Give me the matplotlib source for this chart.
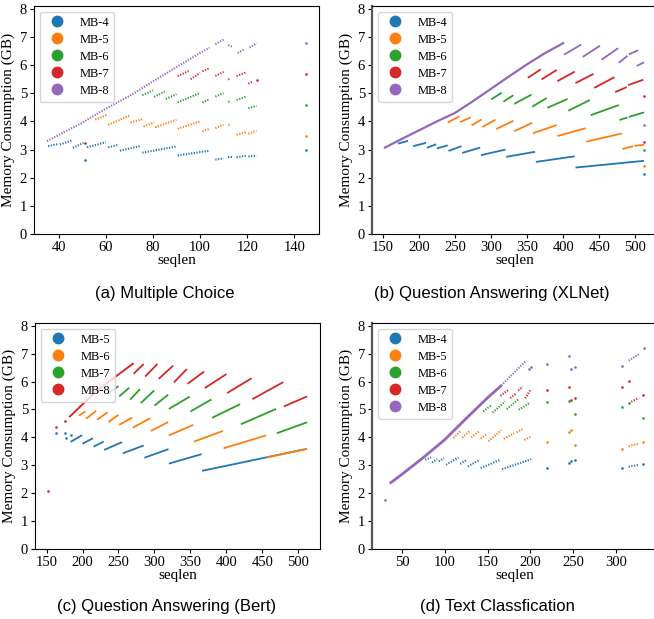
import matplotlib
matplotlib.use("Agg")
import matplotlib.pyplot as plt
from matplotlib.lines import Line2D

plt.rcParams['font.family'] = ['Liberation Serif', 'DejaVu Serif']

COLORS = ['#1f77b4', '#ff7f0e', '#2ca02c', '#d62728', '#9467bd']

# segments are (x_start, x_end, y_start, y_end); x_start == x_end is a single point

# ---- (a) Multiple Choice ----
a_labels = ["MB-4", "MB-5", "MB-6", "MB-7", "MB-8"]
a_curve_x = [35, 40, 45, 50, 52, 60, 70, 80, 90, 100, 104]
a_curve_y = [3.30, 3.52, 3.74, 3.95, 4.06, 4.45, 4.90, 5.42, 5.93, 6.43, 6.62]
a_mb4 = [(35.5, 40, 3.12, 3.20), (40.5, 45.5, 3.18, 3.32), (46, 50.5, 3.06, 3.24),
         (51, 51, 2.62, 2.62), (52, 60, 3.08, 3.26), (61, 65, 3.08, 3.16),
         (66, 75, 2.96, 3.13), (75.5, 90, 2.89, 3.11), (90.5, 104, 2.79, 2.96),
         (106.5, 110, 2.64, 2.69), (112, 113.5, 2.72, 2.72), (115.5, 119.5, 2.73, 2.78),
         (120.5, 124, 2.75, 2.78), (145, 145, 2.98, 2.98)]
a_mb5 = [(55.5, 60.5, 4.06, 4.24), (61, 70, 3.88, 4.20), (70.5, 75.5, 3.96, 4.08),
         (76, 80.5, 3.82, 3.96), (81, 90, 3.79, 4.06), (90.5, 100, 3.74, 4.00),
         (101, 104, 3.65, 3.73), (106.5, 110, 3.76, 3.88), (112, 113, 3.88, 3.86),
         (115.5, 119.5, 3.53, 3.61), (120.5, 124, 3.56, 3.67), (145, 145, 3.49, 3.49)]
a_mb6 = [(75.5, 80, 4.93, 5.10), (80.5, 85, 4.87, 5.06), (85.5, 90, 4.80, 4.97),
         (90.5, 100, 4.68, 5.01), (101, 104, 4.67, 4.79), (106.5, 110, 4.88, 5.00),
         (112, 113, 4.71, 4.67), (115.5, 119.5, 4.76, 4.88), (120.5, 124, 4.47, 4.55),
         (145, 145, 4.58, 4.58)]
a_mb7 = [(51, 51, 3.24, 3.24), (90.5, 95.5, 5.61, 5.80), (96, 100, 5.50, 5.72),
         (101, 104, 5.78, 5.89), (106.5, 110, 5.62, 5.76), (112, 113, 5.51, 5.46),
         (115.5, 119.5, 5.61, 5.74), (120.5, 122, 5.34, 5.40), (124, 124, 5.46, 5.46),
         (145, 145, 5.68, 5.68)]
a_mb8 = [(106.5, 110, 6.74, 6.91), (112, 113.5, 6.71, 6.66), (116, 119, 6.43, 6.57),
         (121, 124, 6.62, 6.78), (145, 145, 6.78, 6.78)]

# ---- (b) Question Answering (XLNet) ----
b_labels = ["MB-4", "MB-5", "MB-6", "MB-7", "MB-8"]
b_curve_x = [153, 175, 200, 225, 250, 275, 300, 325, 350, 375, 400]
b_curve_y = [3.07, 3.36, 3.68, 4.00, 4.30, 4.72, 5.16, 5.60, 6.03, 6.43, 6.78]
b_mb4 = [(171, 185, 3.21, 3.31), (192, 210, 3.12, 3.24), (211, 224, 3.06, 3.19),
         (225, 240, 3.04, 3.15), (241, 259, 2.95, 3.12), (260, 285, 2.88, 3.07),
         (286, 320, 2.80, 3.00), (321, 361, 2.74, 2.92), (362, 416, 2.56, 2.76),
         (417, 512, 2.36, 2.60), (512, 512, 2.12, 2.12)]
b_mb5 = [(240, 256, 3.96, 4.18), (257, 272, 3.98, 4.14), (273, 287, 3.86, 4.07),
         (288, 306, 3.80, 4.06), (307, 331, 3.73, 4.02), (332, 357, 3.65, 3.95),
         (358, 391, 3.58, 3.87), (392, 431, 3.48, 3.76), (432, 481, 3.28, 3.57),
         (482, 497, 3.02, 3.12), (499, 512, 3.13, 3.17), (512, 512, 2.40, 2.40)]
b_mb6 = [(300, 315, 4.78, 5.02), (317, 331, 4.70, 4.93), (332, 356, 4.62, 4.95),
         (357, 377, 4.52, 4.83), (378, 406, 4.48, 4.80), (407, 437, 4.38, 4.76),
         (438, 477, 4.22, 4.58), (478, 489, 4.05, 4.14), (491, 512, 4.16, 4.32),
         (512, 512, 3.00, 3.00)]
b_mb7 = [(351, 369, 5.55, 5.85), (370, 391, 5.49, 5.83), (392, 416, 5.43, 5.77),
         (417, 442, 5.36, 5.69), (443, 471, 5.19, 5.57), (472, 488, 5.04, 5.22),
         (490, 511, 5.29, 5.48), (512, 512, 4.90, 4.90), (512, 512, 3.27, 3.27)]
b_mb8 = [(401, 425, 6.37, 6.73), (427, 451, 6.29, 6.69), (453, 476, 6.19, 6.60),
         (477, 489, 6.08, 6.33), (491, 504, 6.38, 6.53), (502, 512, 5.97, 6.10),
         (512, 512, 3.88, 3.88)]

# ---- (c) Question Answering (Bert) ----
c_labels = ["MB-5", "MB-6", "MB-7", "MB-8"]
c_curve_x = [182.5, 220, 270]
c_curve_y = [4.75, 5.68, 6.64]
c_mb5 = [(163, 163, 4.17, 4.17), (175, 175, 4.14, 4.14), (176.5, 176.5, 3.97, 3.97),
         (184.5, 184.5, 4.07, 4.07), (183.5, 199.5, 3.84, 4.08), (200, 214.5, 3.77, 3.97),
         (215.5, 229.5, 3.67, 3.85), (230, 255, 3.55, 3.83), (256, 285, 3.43, 3.71),
         (286, 319.5, 3.27, 3.58), (320, 365.5, 3.06, 3.40), (366, 512, 2.80, 3.59)]
c_mb6 = [(195, 204, 4.78, 4.93), (205, 219, 4.67, 4.95), (220, 235, 4.63, 4.90),
         (236, 250, 4.55, 4.81), (251, 269, 4.45, 4.71), (270, 294, 4.35, 4.69),
         (295, 319, 4.23, 4.55), (320, 354, 4.07, 4.45), (355, 395, 3.85, 4.23),
         (396, 455, 3.61, 4.07), (456, 512, 3.28, 3.59)]
c_mb7 = [(235, 250, 5.56, 5.84), (251, 265, 5.47, 5.78), (266, 280, 5.35, 5.73),
         (281, 299.5, 5.23, 5.68), (300, 319, 5.14, 5.53), (320, 349, 5.02, 5.46),
         (350, 379, 4.93, 5.36), (380, 419, 4.70, 5.19), (420, 469, 4.47, 5.02),
         (470, 512, 4.15, 4.54)]
c_mb8 = [(152, 152, 2.09, 2.09), (163.5, 163.5, 4.38, 4.38), (175.5, 175.5, 4.59, 4.59),
         (271, 285, 6.28, 6.63), (287, 304, 6.18, 6.63), (306, 326, 6.10, 6.57),
         (327, 345, 5.97, 6.45), (346, 369, 5.92, 6.36), (370, 400, 5.77, 6.27),
         (401, 435, 5.59, 6.12), (436, 479, 5.37, 5.98), (480, 512, 5.11, 5.47)]

# ---- (d) Text Classfication ----
d_labels = ["MB-4", "MB-5", "MB-6", "MB-7", "MB-8"]
d_curve_x = [37, 50, 75, 100, 125, 150, 165]
d_curve_y = [2.38, 2.68, 3.28, 3.92, 4.68, 5.42, 5.83]
d_mb4 = [(77, 84, 3.20, 3.28), (85, 91, 3.10, 3.22), (93, 99, 3.14, 3.26),
         (101.5, 116, 3.02, 3.28), (118, 126, 3.05, 3.20), (127, 141, 2.96, 3.20),
         (142, 165, 2.90, 3.20), (167, 201, 2.86, 3.22), (219, 219, 2.92, 2.92),
         (245, 245, 3.10, 3.10), (248, 248, 3.15, 3.15), (252, 252, 3.20, 3.20),
         (307, 307, 2.90, 2.90), (315, 326, 2.95, 3.01), (332, 332, 3.05, 3.05)]
d_mb5 = [(110, 118.5, 3.98, 4.23), (120.5, 129, 3.99, 4.23), (131, 141, 4.00, 4.24),
         (142, 149, 3.96, 4.12), (151, 166, 3.86, 4.26), (169, 181, 3.95, 4.15),
         (184, 191, 4.18, 4.30), (193, 201, 3.91, 4.03), (219, 219, 3.85, 3.85),
         (245, 245, 4.20, 4.20), (248, 248, 4.28, 4.28), (252, 252, 3.73, 3.73),
         (307, 307, 3.60, 3.60), (315, 326, 3.69, 3.77), (332, 332, 3.84, 3.84)]
d_mb6 = [(145, 155, 4.93, 5.17), (156, 170.5, 4.89, 5.29), (172.5, 186, 5.01, 5.37),
         (186.5, 200, 4.99, 5.25), (219, 219, 5.26, 5.26), (245, 245, 5.29, 5.29),
         (252, 252, 4.85, 4.85), (307, 307, 5.08, 5.08), (315, 315, 5.23, 5.23),
         (332, 332, 4.68, 4.68)]
d_mb7 = [(165, 174.5, 5.49, 5.70), (176.5, 183.5, 5.41, 5.58), (186, 191, 5.68, 5.82),
         (194, 200, 5.40, 5.70), (219, 219, 5.71, 5.71), (245, 245, 5.82, 5.82),
         (248, 248, 5.35, 5.35), (252, 252, 5.42, 5.42), (307, 307, 5.81, 5.81),
         (315, 315, 6.02, 6.02), (318, 326, 5.28, 5.40), (332, 332, 5.52, 5.52)]
d_mb8 = [(30, 30, 1.74, 1.74), (166, 194, 5.86, 6.72), (199, 199, 6.44, 6.44),
         (201, 201, 6.52, 6.52), (219, 219, 6.64, 6.64), (245, 245, 6.92, 6.92),
         (248, 248, 6.44, 6.44), (252, 252, 6.54, 6.54), (307, 307, 6.57, 6.57),
         (315, 327, 6.75, 6.98), (333, 333, 7.21, 7.21)]

DOTTED = (0, (0.6, 0.7))


def draw_panel(ax, labels, series, curve_x, curve_y, dotted, xticks, curve_lw):
    seg_ls = DOTTED if dotted else '-'
    seg_lw = 1.5 if dotted else 1.3
    for i, segs in enumerate(series):
        c = COLORS[i]
        for x0, x1, y0, y1 in segs:
            if x0 == x1:
                ax.plot([x0], [y0], 'o', ms=1.9, mew=0, color=c)
            else:
                ax.plot([x0, x1], [y0, y1], color=c, lw=seg_lw, ls=seg_ls,
                        solid_capstyle='butt')
        if i == len(series) - 1:
            ax.plot(curve_x, curve_y, color=c, lw=curve_lw,
                    ls=DOTTED if dotted and curve_lw < 2 else '-')
    ax.set_ylim(0, 8.1)
    ax.set_yticks(range(0, 9))
    ax.set_xticks(xticks)
    ax.tick_params(labelsize=10.5, length=3, width=0.8, pad=2)
    ax.set_xlabel("seqlen", fontsize=11, labelpad=0)
    ax.set_ylabel("Memory Consumption (GB)", fontsize=11, labelpad=3.5)
    handles = [Line2D([], [], marker='o', ls='', ms=7.5, color=COLORS[i])
               for i in range(len(labels))]
    ax.legend(handles, labels, loc='upper left', fontsize=9,
              labelspacing=0.4, borderaxespad=0.45)


fig = plt.figure(figsize=(6.54, 6.19), dpi=100)
W, H = 654.0, 619.0
ax_a = fig.add_axes([34 / W, (H - 234) / H, 285 / W, 228 / H])
ax_b = fig.add_axes([372 / W, (H - 234) / H, 285 / W, 228 / H])
ax_c = fig.add_axes([35 / W, (H - 549) / H, 285 / W, 226 / H])
ax_d = fig.add_axes([372 / W, (H - 549) / H, 285 / W, 226 / H])

draw_panel(ax_a, a_labels, [a_mb4, a_mb5, a_mb6, a_mb7, a_mb8],
           a_curve_x, a_curve_y, True, range(40, 141, 20), 1.5)
draw_panel(ax_b, b_labels, [b_mb4, b_mb5, b_mb6, b_mb7, b_mb8],
           b_curve_x, b_curve_y, False, range(150, 501, 50), 1.6)
draw_panel(ax_c, c_labels, [c_mb5, c_mb6, c_mb7, c_mb8],
           c_curve_x, c_curve_y, False, range(150, 501, 50), 1.4)
draw_panel(ax_d, d_labels, [d_mb4, d_mb5, d_mb6, d_mb7, d_mb8],
           d_curve_x, d_curve_y, True, range(50, 301, 50), 2.0)

# the right-hand panels have a heavier grey left spine in the original
for ax in (ax_b, ax_d):
    ax.spines['left'].set_linewidth(1.6)
    ax.spines['left'].set_color('#555555')

cap_font = dict(fontsize=12, family=['Liberation Sans', 'DejaVu Sans'],
                ha='center', va='center')
fig.text(165 / W, 1 - 293 / H, "(a) Multiple Choice", **cap_font)
fig.text(492 / W, 1 - 293 / H, "(b) Question Answering (XLNet)", **cap_font)
fig.text(167 / W, 1 - 607 / H, "(c) Question Answering (Bert)", **cap_font)
fig.text(497 / W, 1 - 607 / H, "(d) Text Classfication", **cap_font)

fig.savefig("out.png", dpi=100)
